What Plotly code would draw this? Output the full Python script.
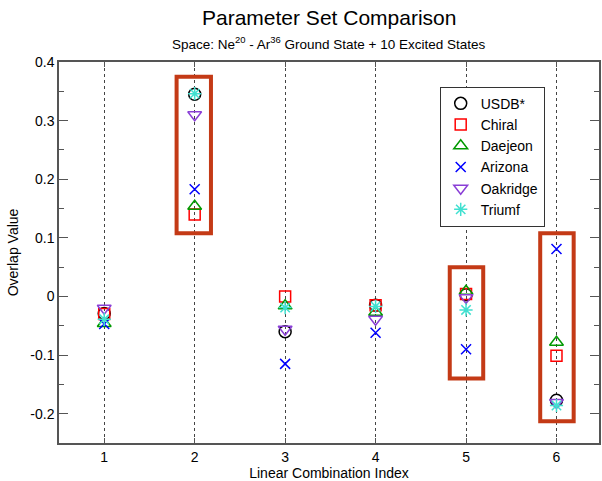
import plotly.graph_objects as go

x_index = [1, 2, 3, 4, 5, 6]
series_names = ["USDB*", "Chiral", "Daejeon", "Arizona", "Oakridge", "Triumf"]
usdb = [-0.029, 0.345, -0.060, -0.015, 0.003, -0.177]
chiral = [-0.030, 0.140, 0.000, -0.015, 0.004, -0.101]
daejeon = [-0.046, 0.154, -0.016, -0.027, 0.009, -0.078]
arizona = [-0.047, 0.183, -0.115, -0.062, -0.090, 0.081]
oakridge = [-0.020, 0.310, -0.056, -0.039, -0.002, -0.181]
triumf = [-0.039, 0.346, -0.019, -0.017, -0.023, -0.186]

# highlight boxes: (x0, x1, y0, y1) in data units
boxes_x0 = [1.80, 4.82, 5.82]
boxes_x1 = [2.18, 5.19, 6.19]
boxes_y0 = [0.108, -0.140, -0.213]
boxes_y1 = [0.375, 0.050, 0.108]

y_ticks = [-0.2, -0.1, 0, 0.1, 0.2, 0.3, 0.4]
y_ticklabels = ["-0.2", "-0.1", "0", "0.1", "0.2", "0.3", "0.4"]

title_text = "Parameter Set Comparison"
subtitle_text = "Space: Ne<sup>20</sup> - Ar<sup>36</sup> Ground State + 10 Excited States"

values = [usdb, chiral, daejeon, arizona, oakridge, triumf]
symbols = ["circle-open", "square-open", "triangle-up-open", "x-thin-open",
           "triangle-down-open", "asterisk-open"]
colors = ["#000000", "#ff0000", "#009900", "#0000ff", "#8a3fd6", "#40e0d0"]
sizes = [12, 11, 12, 10, 12, 11]

FONT = "Liberation Sans, Arial, Helvetica, sans-serif"

fig = go.Figure()
for name, vals, sym, col, sz in zip(series_names, values, symbols, colors, sizes):
    fig.add_trace(go.Scatter(
        x=x_index, y=vals, mode="markers", name=name,
        marker=dict(symbol=sym, size=sz, color=col,
                    line=dict(color=col, width=1.5)),
    ))

for x0, x1, y0, y1 in zip(boxes_x0, boxes_x1, boxes_y0, boxes_y1):
    fig.add_shape(type="rect", x0=x0, x1=x1, y0=y0, y1=y1, xref="x", yref="y",
                  line=dict(color="#c43a16", width=4), fillcolor="rgba(0,0,0,0)",
                  layer="above")

fig.add_annotation(text=title_text, xref="paper", yref="paper", x=0.5, y=1.0,
                   yshift=45, xanchor="center", yanchor="middle", showarrow=False,
                   font=dict(family=FONT, size=21, color="black"))
fig.add_annotation(text=subtitle_text, xref="paper", yref="paper", x=0.5, y=1.0,
                   yshift=19, xanchor="center", yanchor="middle", showarrow=False,
                   font=dict(family=FONT, size=13.5, color="black"))

fig.update_layout(
    width=602, height=481,
    margin=dict(l=59, r=1, t=62, b=36),
    paper_bgcolor="white", plot_bgcolor="white",
    font=dict(family=FONT, size=14, color="black"),
    showlegend=True,
    legend=dict(
        x=0.705, y=0.935, xanchor="left", yanchor="top",
        bgcolor="white", bordercolor="#333333", borderwidth=1,
        font=dict(family=FONT, size=14, color="black"),
        tracegroupgap=0, itemwidth=30,
    ),
    xaxis=dict(
        range=[0.5, 6.47], tickmode="array", tickvals=x_index,
        ticktext=[str(v) for v in x_index],
        showgrid=True, gridcolor="#444444", griddash="dot", gridwidth=1,
        zeroline=False, showline=True, linecolor="#555555", linewidth=1.5,
        mirror="ticks", ticks="inside", ticklen=5, tickcolor="#555555",
        title=dict(text="Linear Combination Index", standoff=6,
                   font=dict(family=FONT, size=14)),
    ),
    yaxis=dict(
        range=[-0.25, 0.4], tickmode="array", tickvals=y_ticks,
        ticktext=y_ticklabels,
        showgrid=False, zeroline=False, showline=True, linecolor="#555555",
        linewidth=1.5, mirror="ticks", ticks="inside", ticklen=9,
        tickcolor="#555555",
        minor=dict(dtick=0.05, ticks="inside", ticklen=5, tickcolor="#555555"),
        title=dict(text="Overlap Value", standoff=8,
                   font=dict(family=FONT, size=14)),
    ),
)

fig.write_html("out.html")
